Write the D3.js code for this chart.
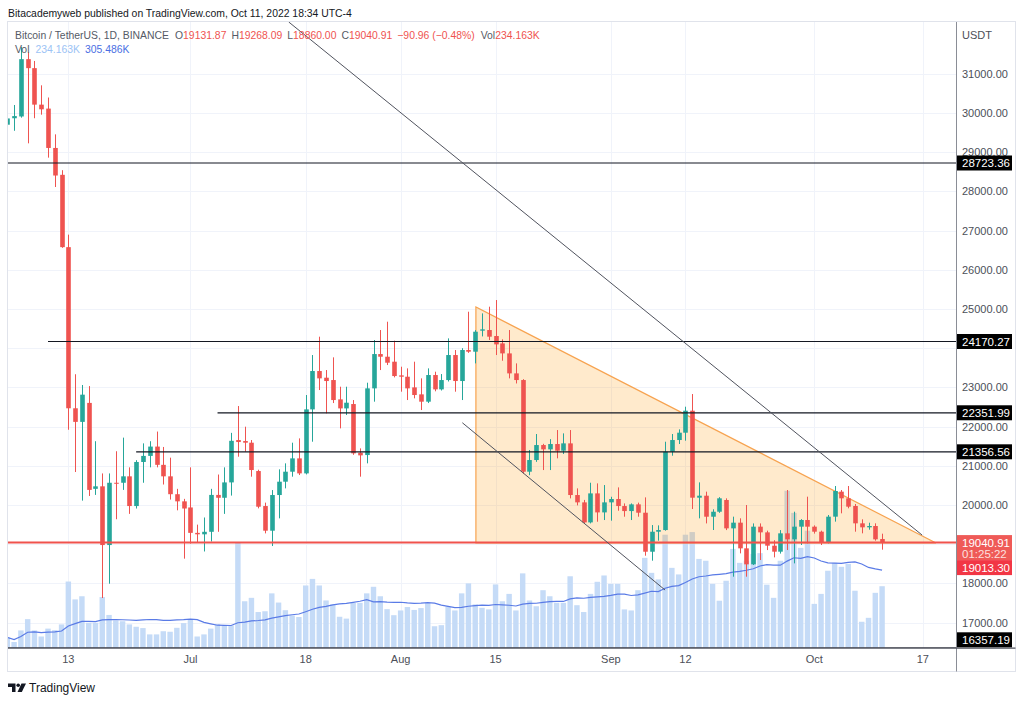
<!DOCTYPE html>
<html><head><meta charset="utf-8">
<script src="https://cdn.jsdelivr.net/npm/d3@7"></script>
<style>
body{margin:0;background:#fff}
svg{display:block}
text{font-family:"Liberation Sans",Arial,sans-serif}
</style>
</head><body>
<svg id="chart" width="1024" height="702"></svg>
<script>
// ---------- DATA ----------
const firstDay = "2022-06-04"; // one candle per day from here
const opens = [29700,29865,29910,31372,31143,30212,30111,29107,28422,26577,
22467,22120,22604,20412,20476,18978,20567,20567,20731,19973,
21097,21252,21490,21024,20731,20275,20093,19937,19289,19252,
19316,20257,20184,20576,21657,21631,21589,20866,19973,19344,
20254,20594,20849,21189,20806,22439,23417,23247,23187,22694,
22464,22575,21334,21274,22975,23850,23782,23655,23306,23272,
23000,22822,22635,23315,22949,23187,23825,23162,23953,23910,
24446,24463,24310,24122,23867,23357,23187,20849,21147,21529,
21419,21555,21385,21572,20254,20067,19556,20296,19811,20067,
20152,19973,19845,20016,19803,18808,19318,19361,21359,21657,
21844,22405,20186,20237,19701,19828,20127,19404,19549,18894,
18486,19447,19302,18962,18809,19277,19124,19447,19617,19447,
19319,19039,19702,20340,20170,19974,19532,19430,19464,19131.87];
const highs = [29950,30203,31690,31550,31326,30705,30394,29454,28540,26896,
23335,23061,23033,21627,20805,20805,21371,21718,20960,21143,
21572,21627,21873,21480,21207,20412,20156,20960,19499,19681,
20412,20777,20960,21840,22524,21997,21657,20900,20060,20381,
20909,21062,21589,21699,22805,23825,24293,23442,23766,23017,
23017,22677,21444,23119,24208,24463,24675,24191,23527,23485,
23655,23230,23485,23400,23340,24250,23953,24000,24930,24460,
24888,25058,25228,24225,24463,23612,23210,21402,21810,21560,
21680,21912,21827,21912,20424,20130,20568,20551,20509,20210,
20449,20040,20040,20060,20194,19488,19480,21614,21810,21929,
22507,22830,20577,20340,19890,20200,20170,19702,19660,19999,
19530,19530,19345,19100,19360,20382,19829,19640,20212,19480,
19345,19745,20484,20382,20484,20025,19634,19548,19532,19268.09];
const lows = [29450,29545,29880,29225,29865,29956,28860,28111,26560,21919,
20841,20111,20230,20257,17627,17992,19636,20385,19773,19910,
20567,20960,20960,20522,20138,19864,18631,19015,19042,18814,
19068,19316,19773,20240,21232,21359,20722,19914,19276,18953,
19659,20424,20722,20764,20780,21614,22932,22337,22600,21954,
22295,21280,20722,21062,22635,23442,23570,23255,22890,22677,
22720,22422,22600,22900,22920,23150,22890,22677,23880,23612,
24300,24208,23825,23680,23230,23100,20800,20760,21100,20891,
20891,21190,21300,20169,19990,19530,19530,19573,19616,19600,
19854,19701,19616,19701,18706,18579,19089,19344,21257,21555,
21640,19897,19659,19530,19362,19800,19360,18171,18766,18171,
18470,18596,18850,18664,18760,18851,18511,18979,19020,19270,
18979,19020,19575,19787,19915,19319,19277,19370,19090,18860];
const closes = [29860,29920,31372,31143,30212,30093,29107,28404,26577,22467,
22120,22814,20385,20476,18978,20567,20560,20731,19973,21097,
21252,21490,21024,20731,20275,20093,19910,19289,19252,19316,
20257,20184,20576,21637,21606,21589,20892,19956,19344,20254,
20594,20849,21189,20806,22439,23417,23230,23162,22677,22464,
22609,21317,21266,22975,23850,23782,23629,23289,23272,22975,
22805,22635,23315,22949,23187,23825,23162,23953,23910,24420,
24480,24293,24097,23867,23357,23187,20849,21147,21529,21419,
21555,21385,21572,20254,20067,19556,20296,19811,20067,20152,
19973,19845,20016,19803,18808,19318,19361,21359,21657,21844,
22405,20186,20237,19701,19828,20170,19404,19549,18894,18486,
19447,19302,18962,18809,19277,19124,19447,19617,19447,19319,
19039,19702,20357,20170,19957,19532,19430,19464,19124,19040.91];
// volume in thousands of BTC
const volumes = [40,22,66,109,66,43,73,67,89,252,
184,196,95,95,193,125,104,101,89,80,
75,51,51,63,61,76,94,108,43,51,
73,89,85,85,400,177,190,136,139,207,
172,143,123,117,237,262,237,180,165,118,
111,171,171,207,232,196,147,124,142,155,
144,151,170,82,86,157,142,207,245,165,
152,146,241,177,205,142,283,180,158,219,
196,171,171,272,162,136,205,251,275,243,
243,146,142,219,342,285,260,430,304,279,
430,440,338,331,243,179,255,376,323,331,
357,360,240,190,331,597,513,380,445,167,
205,293,323,308,319,217,99,114,209,234.163];
const maLength = 20;

const priceTicks = [17000,18000,19000,20000,21000,22000,23000,24000,25000,26000,27000,28000,29000,30000,31000];
const timeTickDates = ["2022-06-13","2022-07-01","2022-07-18","2022-08-01","2022-08-15","2022-09-01","2022-09-12","2022-10-01","2022-10-17"];
const timeTickLabels = ["13","Jul","18","Aug","15","Sep","12","Oct","17"];

// horizontal level drawings
const levelPrices = [28723.36, 24170.27, 22351.99, 21356.56, 16357.19];
const levelStarts = [null, "2022-06-10T00:00", "2022-07-05T00:00", "2022-06-23T00:00", null];
const supportPrice = 19040.91;
const extraPrice = 19013.30;
const countdown = "01:25:22";

// trend lines and triangle, anchored at [time, price]
const trendA = [["2022-07-15T12:00", 32320], ["2022-10-16T21:36", 19233]];
const trendB = [["2022-08-10T02:24", 22098], ["2022-09-09T00:00", 17830]];
const triangle = [["2022-08-12T02:24", 25050], ["2022-08-12T02:24", 19030], ["2022-10-18T22:48", 19030]];

const headerText = "Bitacademyweb published on TradingView.com, Oct 11, 2022 18:34 UTC-4";
const symbolText = "Bitcoin / TetherUS, 1D, BINANCE";
const legendOHLC = [["O","19131.87"],["H","19268.09"],["L","18860.00"],["C","19040.91"]];
const changeText = "\u221290.96 (\u22120.48%)";
const volText = "234.163K";
const volMaText = "305.486K";

// ---------- CHART ----------
const svg = d3.select("#chart");
const W = 1024, H = 702;
const L = 8, R = 956, T = 22, B = 647.8, FR = 1015.5, FB = 671.5;
const UP = "#26a69a", DOWN = "#ef5350";
const parseT = d3.utcParse("%Y-%m-%dT%H:%M");
const parseD = d3.utcParse("%Y-%m-%d");
const day0 = parseD(firstDay);
const dates = opens.map((_, i) => d3.utcDay.offset(day0, i));

const x = d3.scaleUtc()
  .domain([new Date(Date.UTC(2022,5,4,2,24)), new Date(Date.UTC(2022,9,21,21,36))])
  .range([L, R]);
const y = d3.scaleLinear().domain([16357.19, 32320]).range([B, T]);
const yv = d3.scaleLinear().domain([0, 1000]).range([B, B - 263]);
const step = x(dates[1]) - x(dates[0]);

svg.append("rect").attr("width", W).attr("height", H).attr("fill", "#fff");

// frame
svg.append("rect").attr("x", 7.5).attr("y", 21.5).attr("width", FR - 7.5).attr("height", FB - 21.5)
  .attr("fill", "none").attr("stroke", "#e0e3eb");

const defs = svg.append("defs");
defs.append("clipPath").attr("id", "plot").append("rect")
  .attr("x", L).attr("y", T).attr("width", R - L).attr("height", B - T);

const plot = svg.append("g").attr("clip-path", "url(#plot)");

// grid
plot.append("g").selectAll("line").data(priceTicks).join("line")
  .attr("x1", L).attr("x2", R)
  .attr("y1", d => Math.round(y(d)) + 0.5).attr("y2", d => Math.round(y(d)) + 0.5)
  .attr("stroke", "#f0f3fa");
plot.append("g").selectAll("line").data(timeTickDates).join("line")
  .attr("x1", d => Math.round(x(parseD(d))) + 0.5).attr("x2", d => Math.round(x(parseD(d))) + 0.5)
  .attr("y1", T).attr("y2", B)
  .attr("stroke", "#f0f3fa");

// volume bars
plot.append("g").selectAll("rect").data(volumes).join("rect")
  .attr("x", (d, i) => x(dates[i]) - step * 0.4)
  .attr("width", step * 0.8)
  .attr("y", d => yv(d))
  .attr("height", d => B - yv(d))
  .attr("fill", "#c5dbf7");

// volume MA
const ma = volumes.map((v, i) => d3.mean(volumes.slice(Math.max(0, i - maLength + 1), i + 1)));
plot.append("path").datum(ma)
  .attr("d", d3.line().x((d, i) => x(dates[i])).y(d => yv(d)))
  .attr("fill", "none").attr("stroke", "#5a7be6").attr("stroke-width", 1.2);

// triangle
const pt = p => [x(parseT(p[0])), y(p[1])];
plot.append("path")
  .attr("d", d3.line()(triangle.map(pt)) + "Z")
  .attr("fill", "rgba(255,152,0,0.2)").attr("stroke", "#f7a350").attr("stroke-width", 1.2);

// candles
const cg = plot.append("g");
const cw = step * 0.68;
opens.forEach((o, i) => {
  const c = closes[i], col = c >= o ? UP : DOWN;
  const cx = Math.round(x(dates[i])) + 0.5;
  cg.append("line").attr("x1", cx).attr("x2", cx)
    .attr("y1", y(highs[i])).attr("y2", y(lows[i])).attr("stroke", col);
  const top = y(Math.max(o, c)), bot = y(Math.min(o, c));
  cg.append("rect").attr("x", cx - cw / 2).attr("width", cw)
    .attr("y", top).attr("height", Math.max(1, bot - top)).attr("fill", col);
});

// support line (red)
plot.append("line").attr("x1", L).attr("x2", R)
  .attr("y1", y(supportPrice)).attr("y2", y(supportPrice))
  .attr("stroke", "#f0524d").attr("stroke-width", 2);

// horizontal levels
levelPrices.forEach((p, k) => {
  const x1 = levelStarts[k] ? x(parseT(levelStarts[k])) : L;
  plot.append("line").attr("x1", x1).attr("x2", R)
    .attr("y1", y(p)).attr("y2", y(p)).attr("stroke", "#131722").attr("stroke-width", 1.2);
});

// trend lines
[trendA, trendB].forEach(tl => {
  const a = pt(tl[0]), b = pt(tl[1]);
  plot.append("line").attr("x1", a[0]).attr("y1", a[1]).attr("x2", b[0]).attr("y2", b[1])
    .attr("stroke", "#50535e").attr("stroke-width", 1);
});

// axis separators
svg.append("line").attr("x1", R + 0.5).attr("x2", R + 0.5).attr("y1", T).attr("y2", FB)
  .attr("stroke", "#8a8d96");
svg.append("line").attr("x1", L).attr("x2", FR).attr("y1", B + 0.3).attr("y2", B + 0.3)
  .attr("stroke", "#50535e").attr("stroke-width", 1.2);

// price axis labels (ticks hidden where a price box covers them)
const boxYs = levelPrices.map(p => Math.min(y(p), B - 8)).concat([y(supportPrice) + 5, y(supportPrice) + 25]);
const visibleTicks = priceTicks.filter(t => boxYs.every(by => Math.abs(y(t) - by) > (by === y(supportPrice) + 5 ? 14 : 9)));
const ax = svg.append("g").attr("font-size", 11).attr("fill", "#4c4f58");
ax.selectAll("text.tick").data(visibleTicks).join("text").attr("class", "tick")
  .attr("x", 962).attr("y", d => y(d) + 4).text(d => d3.format(".2f")(d));
ax.append("text").attr("x", 962).attr("y", 39).text("USDT");

// level labels on axis
const lab = svg.append("g").attr("font-size", 11.5);
function boxLabel(cy, txt, bg) {
  lab.append("rect").attr("x", R + 1).attr("y", cy - 7.5).attr("width", 55).attr("height", 15).attr("fill", bg);
  lab.append("text").attr("x", 962).attr("y", cy + 4.2).attr("fill", "#fff").text(txt);
}
levelPrices.forEach(p => {
  const cy = Math.min(y(p), B - 8);
  boxLabel(cy, d3.format(".2f")(p), "#000");
});
// red price label with countdown
const sy = y(supportPrice);
lab.append("rect").attr("x", R + 1).attr("y", sy - 7.5).attr("width", 55).attr("height", 25).attr("fill", "#ef5a57");
lab.append("text").attr("x", 962).attr("y", sy + 4).attr("fill", "#fff").text(d3.format(".2f")(supportPrice));
lab.append("text").attr("x", 962).attr("y", sy + 15).attr("fill", "#fde0df").text(countdown);
boxLabel(sy + 25, d3.format(".2f")(extraPrice), "#f23645");

// time axis labels
svg.append("g").attr("font-size", 11).attr("fill", "#4c4f58").attr("text-anchor", "middle")
  .selectAll("text").data(timeTickDates).join("text")
  .attr("x", d => x(parseD(d))).attr("y", 663)
  .text((d, i) => timeTickLabels[i]);

// header
svg.append("text").attr("x", 8).attr("y", 17).attr("font-size", 10.4).attr("fill", "#131722").text(headerText);

// legend (segments laid out one after another)
const lg = svg.append("g").attr("font-size", 10.4).attr("fill", "#555a66");
let cx = 15;
function seg(parts, yy, gap) {
  const t = lg.append("text").attr("x", cx).attr("y", yy);
  parts.forEach(([s, col]) => { const ts = t.append("tspan").text(s); if (col) ts.attr("fill", col); });
  cx += t.node().getComputedTextLength() + gap;
}
seg([[symbolText]], 39, 6);
legendOHLC.forEach(([k, v]) => seg([[k], [v, "#ef5350"]], 39, 5));
seg([[changeText, "#ef5350"]], 39, 6);
seg([["Vol"], [volText, "#ef5350"]], 39, 0);
cx = 15;
seg([["Vol"]], 53, 6);
seg([[volText, "#9cc3f5"]], 53, 5);
seg([[volMaText, "#4a6fe3"]], 53, 0);

// TradingView logo
const lgo = svg.append("g").attr("fill", "#131722");
lgo.append("path").attr("d", "M8 683.5h7.5v8.5h-3.5v-5h-4z");
lgo.append("circle").attr("cx", 18.2).attr("cy", 685.3).attr("r", 1.8);
lgo.append("path").attr("d", "M21.5 683.5h4.5l-4.2 8.5h-4.3z");
svg.append("text").attr("x", 29).attr("y", 692).attr("font-size", 12).attr("fill", "#131722").text("TradingView");
</script>
</body></html>
